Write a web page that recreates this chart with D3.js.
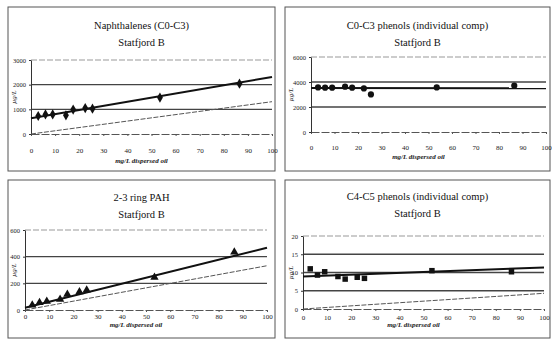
<!DOCTYPE html>
<html>
<head>
<meta charset="utf-8">
<script src="https://cdn.jsdelivr.net/npm/d3@7"></script>
<style>
  body { margin: 0; background: #fff; }
</style>
</head>
<body>
<div class="chart"></div>
<script>
// samples (mg/L dispersed oil), same for every panel
const dispersedOil = [3, 6, 9, 14.5, 17.5, 22.5, 25.5, 53.5, 86.5];
const fitX = [0, 100];

// Naphthalenes (C0-C3)
const naphValues = [730, 795, 795, 757, 990, 1050, 1025, 1475, 2040];
const naphFit = [640, 2310];
const naphLower = [0, 1310];
const naphTicks = [0, 1000, 2000, 3000];

// C0-C3 phenols
const phenLowValues = [3570, 3550, 3550, 3630, 3550, 3490, 3010, 3570, 3710];
const phenLowFit = [3530, 3500];
const phenLowTicks = [0, 2000, 4000, 6000];

// 2-3 ring PAH
const pahValues = [37, 55, 65, 80, 117, 137, 150, 245, 435];
const pahFit = [17, 467];
const pahLower = [0, 332];
const pahTicks = [0, 200, 400, 600];

// C4-C5 phenols
const phenHighValues = [11.0, 9.3, 10.2, 8.9, 8.2, 8.7, 8.4, 10.5, 10.2];
const phenHighFit = [8.9, 11.4];
const phenHighLower = [0, 4.3];
const phenHighTicks = [0, 5, 10, 15, 20];

const xTicks = [0, 10, 20, 30, 40, 50, 60, 70, 80, 90, 100];
const titles = ['Naphthalenes (C0-C3)', 'C0-C3 phenols (individual comp)',
  '2-3 ring PAH', 'C4-C5 phenols (individual comp)'];
const subtitle = 'Statfjord B';
const yLabel = 'µg/L';
const xLabel = 'mg/L dispersed oil';

const serif = 'Liberation Serif';

const svg = d3.select('.chart').append('svg')
  .attr('width', 552)
  .attr('height', 340)
  .style('font-family', serif);

const panels = [
  { title: titles[0], values: naphValues, fit: naphFit, lower: naphLower, ticks: naphTicks,
    symbol: d3.symbolDiamond,
    box: [8, 7, 275, 171], plot: [31, 272, 60, 134], titleY: 29, labY: 153, xTitleY: 163 },
  { title: titles[1], values: phenLowValues, fit: phenLowFit, lower: null, ticks: phenLowTicks,
    symbol: d3.symbolCircle,
    box: [285, 7, 550, 171], plot: [311, 546, 57, 132], titleY: 29, labY: 150, xTitleY: 159 },
  { title: titles[2], values: pahValues, fit: pahFit, lower: pahLower, ticks: pahTicks,
    symbol: d3.symbolTriangle,
    box: [8, 180, 275, 338], plot: [25, 267, 230, 310], titleY: 201, labY: 319, xTitleY: 327 },
  { title: titles[3], values: phenHighValues, fit: phenHighFit, lower: phenHighLower, ticks: phenHighTicks,
    symbol: d3.symbolSquare,
    box: [285, 180, 550, 338], plot: [303, 544, 236, 309], titleY: 200, labY: 320, xTitleY: 327 }
];

panels.forEach(p => {
  const g = svg.append('g');
  const [bx0, by0, bx1, by1] = p.box;
  const [left, right, top, bottom] = p.plot;

  g.append('rect')
    .attr('x', bx0).attr('y', by0)
    .attr('width', bx1 - bx0).attr('height', by1 - by0)
    .attr('fill', 'none').attr('stroke', '#555').attr('stroke-width', 1);

  const cx = (bx0 + bx1) / 2;
  g.append('text').attr('x', cx).attr('y', p.titleY)
    .attr('text-anchor', 'middle').attr('font-family', serif).attr('font-size', 10.5)
    .attr('fill', '#111').text(p.title);
  g.append('text').attr('x', cx).attr('y', p.titleY + 17)
    .attr('text-anchor', 'middle').attr('font-family', serif).attr('font-size', 10.5)
    .attr('fill', '#111').text(subtitle);

  const x = d3.scaleLinear().domain([0, 100]).range([left, right]);
  const ymax = p.ticks[p.ticks.length - 1];
  const y = d3.scaleLinear().domain([0, ymax]).range([bottom, top]);

  // horizontal gridlines
  g.selectAll('.grid').data(p.ticks.filter(t => t > 0 && t < ymax)).enter()
    .append('line')
    .attr('x1', left).attr('x2', right)
    .attr('y1', d => y(d)).attr('y2', d => y(d))
    .attr('stroke', '#444').attr('stroke-width', 1.3);
  // top edge of the plot
  g.append('line')
    .attr('x1', left).attr('x2', right)
    .attr('y1', y(ymax)).attr('y2', y(ymax))
    .attr('stroke', '#999').attr('stroke-dasharray', '6,2');

  // x axis
  const xAxis = d3.axisBottom(x).tickValues(xTicks).tickSize(2).tickSizeOuter(0);
  const xg = g.append('g').attr('transform', 'translate(0,' + bottom + ')').call(xAxis)
    .attr('font-family', serif).attr('font-size', 7);
  xg.select('.domain').attr('stroke', '#555').attr('stroke-dasharray', '8,2');
  xg.selectAll('.tick line').attr('stroke', '#555');
  xg.selectAll('.tick text')
    .attr('y', p.labY - bottom).attr('dy', 0).attr('fill', '#222');

  // y axis
  const yAxis = d3.axisLeft(y).tickValues(p.ticks).tickFormat(d3.format('d'))
    .tickSize(2).tickSizeOuter(0);
  const yg = g.append('g').attr('transform', 'translate(' + left + ',0)').call(yAxis)
    .attr('font-family', serif).attr('font-size', 6.5);
  yg.select('.domain').attr('stroke', '#333');
  yg.selectAll('.tick line').attr('stroke', '#333');
  yg.selectAll('.tick text').attr('fill', '#222');

  g.append('text')
    .attr('transform', 'translate(' + (bx0 + 8) + ',' + ((top + bottom) / 2) + ') rotate(-90)')
    .attr('text-anchor', 'middle').attr('font-family', serif)
    .attr('font-size', 7).attr('font-style', 'italic').attr('fill', '#222')
    .text(yLabel);

  g.append('text').attr('x', (left + right) / 2 - 10).attr('y', p.xTitleY)
    .attr('text-anchor', 'middle').attr('font-family', serif).attr('font-size', 7)
    .attr('font-style', 'italic').attr('font-weight', 'bold').attr('fill', '#222')
    .text(xLabel);

  const line = d3.line().x(d => x(d[0])).y(d => y(d[1]));

  if (p.lower) {
    g.append('path')
      .datum(fitX.map((v, i) => [v, p.lower[i]]))
      .attr('fill', 'none').attr('stroke', '#555').attr('stroke-width', 1)
      .attr('stroke-dasharray', '5,1.5')
      .attr('d', line);
  }

  g.append('path')
    .datum(fitX.map((v, i) => [v, p.fit[i]]))
    .attr('fill', 'none').attr('stroke', '#111').attr('stroke-width', 2)
    .attr('d', line);

  g.selectAll('.pt').data(dispersedOil.map((v, i) => [v, p.values[i]])).enter()
    .append('path')
    .attr('transform', d => 'translate(' + x(d[0]) + ',' + y(d[1]) + ')')
    .attr('d', d3.symbol().type(p.symbol).size(30))
    .attr('fill', '#111');
});
</script>
</body>
</html>
